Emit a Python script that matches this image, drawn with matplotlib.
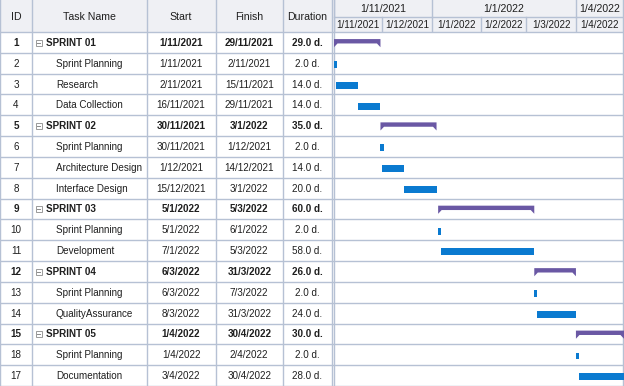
import matplotlib
matplotlib.use("Agg")
import matplotlib.pyplot as plt
import matplotlib.dates as mdates
from matplotlib.patches import Rectangle, Polygon
from datetime import datetime, timedelta

# ---------------- data ----------------
ids = ["1", "2", "3", "4", "5", "6", "7", "8", "9", "10", "11", "12", "13", "14", "15", "18", "17"]
names = ["SPRINT 01", "Sprint Planning", "Research", "Data Collection",
         "SPRINT 02", "Sprint Planning", "Architecture Design", "Interface Design",
         "SPRINT 03", "Sprint Planning", "Development",
         "SPRINT 04", "Sprint Planning", "QualityAssurance",
         "SPRINT 05", "Sprint Planning", "Documentation"]
starts = ["1/11/2021", "1/11/2021", "2/11/2021", "16/11/2021",
          "30/11/2021", "30/11/2021", "1/12/2021", "15/12/2021",
          "5/1/2022", "5/1/2022", "7/1/2022",
          "6/3/2022", "6/3/2022", "8/3/2022",
          "1/4/2022", "1/4/2022", "3/4/2022"]
finishes = ["29/11/2021", "2/11/2021", "15/11/2021", "29/11/2021",
            "3/1/2022", "1/12/2021", "14/12/2021", "3/1/2022",
            "5/3/2022", "6/1/2022", "5/3/2022",
            "31/3/2022", "7/3/2022", "31/3/2022",
            "30/4/2022", "2/4/2022", "30/4/2022"]
durations = ["29.0 d.", "2.0 d.", "14.0 d.", "14.0 d.",
             "35.0 d.", "2.0 d.", "14.0 d.", "20.0 d.",
             "60.0 d.", "2.0 d.", "58.0 d.",
             "26.0 d.", "2.0 d.", "24.0 d.",
             "30.0 d.", "2.0 d.", "28.0 d."]
is_summary = [True, False, False, False, True, False, False, False,
              True, False, False, True, False, False, True, False, False]

month_labels = ["1/11/2021", "1/12/2021", "1/1/2022", "1/2/2022", "1/3/2022", "1/4/2022"]
quarter_labels = ["1/11/2021", "1/1/2022", "1/4/2022"]
col_headers = ["ID", "Task Name", "Start", "Finish", "Duration"]

# ---------------- style ----------------
W, H = 624, 386
HEAD = 32.0
SPLIT = 16.5
GL = 334.0
LINE = "#b6c1d4"
HEADBG = "#eff0f4"
TXT = "#1e1e1e"
BLUE = "#0a7ad0"
PURPLE = "#6a58a4"
FONT = "Liberation Sans"
FS = 7.1
FSH = 7.6
col_edges = [0, 31.7, 146.7, 215.5, 283.0, 332.0]

def pd_(s):
    return datetime.strptime(s, "%d/%m/%Y")

fig = plt.figure(figsize=(W / 100, H / 100), dpi=100)
bg = fig.add_axes([0, 0, 1, 1])
bg.set_xlim(0, W)
bg.set_ylim(H, 0)
bg.axis("off")

n = len(names)
rh = (H - HEAD) / n

# header backgrounds
bg.add_patch(Rectangle((0, 0), W, HEAD, facecolor=HEADBG, edgecolor="none", zorder=0))

# table header text
for i, h in enumerate(col_headers):
    cx = (col_edges[i] + col_edges[i + 1]) / 2
    bg.text(cx, HEAD / 2 + 1, h, ha="center", va="center", fontsize=FSH,
            family=FONT, color=TXT)

# horizontal lines
for k in range(n + 1):
    y = HEAD + k * rh
    bg.plot([0, W], [y, y], color=LINE, lw=1.0, zorder=1)
bg.plot([GL, W], [SPLIT, SPLIT], color=LINE, lw=1.0, zorder=1)
# vertical lines in table
for x in col_edges:
    bg.plot([x, x], [0, H], color=LINE, lw=1.0, zorder=1)
bg.plot([GL, GL], [0, H], color=LINE, lw=1.0, zorder=1)
bg.plot([W - 0.8, W - 0.8], [0, H], color=LINE, lw=1.0, zorder=1)

# table body
for r in range(n):
    yc = HEAD + (r + 0.5) * rh + 0.5
    fw = "bold" if is_summary[r] else "normal"
    bg.text(16, yc, ids[r], ha="center", va="center", fontsize=FS, family=FONT,
            color=TXT, weight=fw)
    if is_summary[r]:
        bg.add_patch(Rectangle((35.5, yc - 3.2), 6, 6, facecolor="white",
                               edgecolor="#9a9a9a", lw=0.7, zorder=2))
        bg.plot([37, 40], [yc - 0.2, yc - 0.2], color="#8a8a8a", lw=0.7, zorder=3)
        bg.text(46.5, yc, names[r], ha="left", va="center", fontsize=FS, family=FONT,
                color=TXT, weight="bold")
    else:
        bg.text(56, yc, names[r], ha="left", va="center", fontsize=FS, family=FONT,
                color=TXT)
    bg.text((col_edges[2] + col_edges[3]) / 2, yc, starts[r], ha="center", va="center",
            fontsize=FS, family=FONT, color=TXT, weight=fw)
    bg.text((col_edges[3] + col_edges[4]) / 2, yc, finishes[r], ha="center", va="center",
            fontsize=FS, family=FONT, color=TXT, weight=fw)
    bg.text((col_edges[4] + col_edges[5]) / 2, yc, durations[r], ha="center", va="center",
            fontsize=FS, family=FONT, color=TXT, weight=fw)

# ---------------- gantt ----------------
x0 = mdates.date2num(datetime(2021, 11, 1))
x1 = mdates.date2num(datetime(2022, 5, 1))

gx = fig.add_axes([GL / W, 0, (W - GL) / W, (H - HEAD) / H])
gx.patch.set_visible(False)
gx.set_xlim(x0, x1)
gx.set_ylim(n - 0.5, -0.5)
gx.axis("off")

for r in range(n):
    s = mdates.date2num(pd_(starts[r]))
    e = mdates.date2num(pd_(finishes[r]) + timedelta(days=1))
    if is_summary[r]:
        top, bot, tip = r - 0.16, r + 0.05, r + 0.23
        tw = 2.2
        poly = [(s, top), (e, top), (e, tip), (e - tw, bot), (s + tw, bot), (s, tip)]
        gx.add_patch(Polygon(poly, closed=True, facecolor=PURPLE, edgecolor="none",
                             zorder=3))
    else:
        gx.barh(r + 0.06, e - s, left=s, height=0.33, color=BLUE, zorder=3)

# timeline header
hx = fig.add_axes([GL / W, (H - HEAD) / H, (W - GL) / W, HEAD / H])
hx.patch.set_visible(False)
hx.set_xlim(x0, x1)
hx.set_ylim(HEAD, 0)
hx.axis("off")

mdates_list = [pd_(m) for m in month_labels] + [datetime(2022, 5, 1)]
for i, m in enumerate(month_labels):
    a = mdates.date2num(mdates_list[i])
    b = mdates.date2num(mdates_list[i + 1])
    hx.plot([a, a], [SPLIT, HEAD], color=LINE, lw=1.0)
    hx.text((a + b) / 2, (SPLIT + HEAD) / 2 + 0.5, m, ha="center", va="center",
            fontsize=7.1, family=FONT, color=TXT, clip_on=False)

q_ends = [pd_(q) for q in quarter_labels] + [datetime(2022, 5, 1)]
for i, q in enumerate(quarter_labels):
    a = mdates.date2num(q_ends[i])
    b = mdates.date2num(q_ends[i + 1])
    hx.plot([a, a], [0, SPLIT], color=LINE, lw=1.0)
    hx.text((a + b) / 2, SPLIT / 2 + 0.5, q, ha="center", va="center",
            fontsize=7.6, family=FONT, color=TXT, clip_on=False)

fig.savefig("out.png", dpi=100)
